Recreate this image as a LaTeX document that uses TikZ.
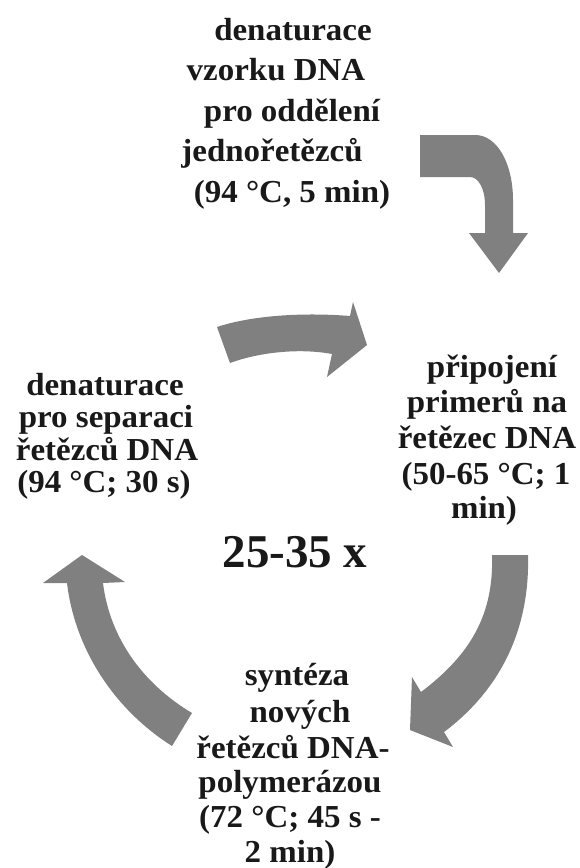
\documentclass[tikz,border=0pt]{standalone}
\usepackage{fontspec}
\setmainfont{Liberation Serif}[FakeStretch=1.03]
\newfontfamily\bigfont{Liberation Serif}
\definecolor{arrowgray}{RGB}{128,128,128}
\begin{document}
\begin{tikzpicture}[x=0.75pt,y=-0.75pt,
  lbl/.style={font=\fontsize{24}{28}\selectfont\bfseries, inner sep=0pt, anchor=base, text=black!90},
  bignum/.style={font=\bigfont\fontsize{35.25}{40}\selectfont\bfseries, inner sep=0pt, anchor=base, text=black!90},
  bigarrow/.style={fill=arrowgray, draw=none}]
\useasboundingbox[fill=white] (0,0) rectangle (580,868);
% top block
\node[lbl] (a1) at (293,40) {denaturace};
\node[lbl] (a2) at (276,80.5) {vzorku DNA};
\node[lbl] (a3) at (292,121) {pro oddělení};
\node[lbl] (a4) at (272,161.5) {jednořetězců};
\node[lbl] (a5) at (292,202) {(94 °C, 5 min)};
% left block
\node[lbl] (b1) at (105,395) {denaturace};
\node[lbl] (b2) at (106,427) {pro separaci};
\node[lbl] (b3) at (107,460) {řetězců DNA};
\node[lbl] (b4) at (104,492) {(94 °C; 30 s)};
% right block
\node[lbl] (c1) at (492,377) {připojení};
\node[lbl] (c2) at (487,412) {primerů na};
\node[lbl] (c3) at (487,448) {řetězec DNA};
\node[lbl] (c4) at (486,484) {(50-65 °C; 1};
\node[lbl] (c5) at (484,518) {min)};
% bottom block
\node[lbl] (d1) at (297,685) {syntéza};
\node[lbl] (d2) at (300,722) {nových};
\node[lbl] (d3) at (293,758) {řetězců DNA-};
\node[lbl] (d4) at (290,792) {polymerázou};
\node[lbl] (d5) at (290,827) {(72 °C; 45 s -};
\node[lbl] (d6) at (290,862) {2 min)};
% centre
\node[bignum] (cyc) at (295,567) {25-35 x};
% arrows
\fill[bigarrow] (420,135) -- (475,135) .. controls (498,135) and (513,165) .. (513,200)
  -- (513,233) -- (528,233) -- (499,273) -- (469,233) -- (485,233) -- (485,205)
  .. controls (485,188) and (478,177) .. (470,177) -- (420,177) -- cycle;
\fill[bigarrow] (217,327) .. controls (250,316) and (300,312) .. (350,316)
  -- (353,302) -- (367,345) -- (327,377) -- (332,354)
  .. controls (300,348) and (260,352) .. (230,363) -- cycle;
\fill[bigarrow] (492,555) -- (528,555) .. controls (530,630) and (500,690) .. (444,732)
  -- (453,747) -- (410,730) -- (412,677) -- (421,692)
  .. controls (470,655) and (494,615) .. (492,555) -- cycle;
\fill[bigarrow] (43,583) -- (82,555) -- (125,582) -- (103,583)
  .. controls (110,640) and (145,685) .. (192,713) -- (172,746)
  .. controls (115,710) and (75,650) .. (67,583) -- cycle;
\end{tikzpicture}
\end{document}
